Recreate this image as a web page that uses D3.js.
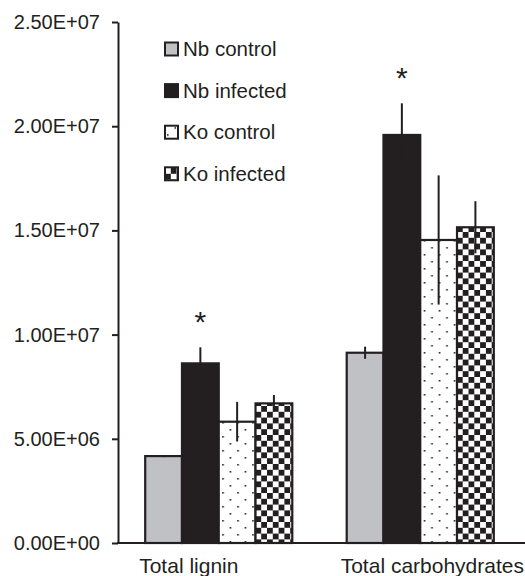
<!DOCTYPE html>
<html>
<head>
<meta charset="UTF-8">
<title>Lignin and carbohydrates</title>
<style>
  body { margin: 0; background: #fff; }
  svg text { font-family: "Liberation Sans", Arial, sans-serif; fill: #231f20; }
</style>
</head>
<body>
<svg width="525" height="576"></svg>
<script src="https://cdnjs.cloudflare.com/ajax/libs/d3/7.8.5/d3.min.js"></script>
<script>
// data
const categories = ['Total lignin', 'Total carbohydrates'];
const series = ['Nb control', 'Nb infected', 'Ko control', 'Ko infected'];
const means = [
  [4.17e6, 8.62e6, 5.82e6, 6.70e6],
  [9.13e6, 19.58e6, 14.54e6, 15.15e6]
];
const errors = [
  [0.05e6, 0.77e6, 0.95e6, 0.40e6],
  [0.29e6, 1.52e6, 3.10e6, 1.25e6]
];
const significant = [
  [false, true, false, false],
  [false, true, false, false]
];
const yTicks = [0, 5e6, 1e7, 1.5e7, 2e7, 2.5e7];

const ink = '#231f20';
const svg = d3.select('svg');
const defs = svg.append('defs');

// dotted fill for Ko control
const dots = defs.append('pattern').attr('id', 'dots')
  .attr('patternUnits', 'userSpaceOnUse').attr('width', 15).attr('height', 14);
dots.append('rect').attr('width', 15).attr('height', 14).attr('fill', '#fff');
dots.append('rect').attr('x', 2).attr('y', 2).attr('width', 1.6).attr('height', 1.6).attr('fill', ink);
dots.append('rect').attr('x', 9.5).attr('y', 9).attr('width', 1.6).attr('height', 1.6).attr('fill', ink);

// checker fill for Ko infected
const chk = defs.append('pattern').attr('id', 'checker')
  .attr('patternUnits', 'userSpaceOnUse').attr('width', 11.6).attr('height', 11.6)
  .attr('x', 0).attr('y', 0);
chk.append('rect').attr('width', 11.6).attr('height', 11.6).attr('fill', '#fff');
chk.append('rect').attr('width', 5.8).attr('height', 5.8).attr('fill', ink);
chk.append('rect').attr('x', 5.8).attr('y', 5.8).attr('width', 5.8).attr('height', 5.8).attr('fill', ink);

const fills = ['#c0c1c4', ink, 'url(#dots)', 'url(#checker)'];

const y = d3.scaleLinear().domain([0, 2.5e7]).range([543, 22]);
const x0 = d3.scaleBand().domain(categories).range([118, 521])
  .paddingInner(0.27).paddingOuter(0.135);
const x1 = d3.scaleBand().domain(series).range([0, x0.bandwidth()]);

// y axis
const yAxis = svg.append('g').attr('transform', 'translate(118,0)')
  .call(d3.axisLeft(y).tickValues(yTicks).tickSize(6).tickSizeOuter(0).tickPadding(12)
    .tickFormat(d => d.toExponential(2).toUpperCase().replace(/E([+-])(\d)$/, 'E$10$2')));
yAxis.select('.domain').attr('stroke', ink).attr('stroke-width', 2);
yAxis.selectAll('.tick line').attr('stroke', ink).attr('stroke-width', 2);
yAxis.selectAll('.tick text').attr('font-size', 20).style('fill', ink);

// bars
const groups = svg.selectAll('g.grp')
  .data(categories.map((c, i) => ({ c, i })))
  .join('g').attr('class', 'grp')
  .attr('transform', d => `translate(${x0(d.c)},0)`);

groups.selectAll('rect')
  .data(d => series.map((s, j) => ({ s, j, v: means[d.i][j] })))
  .join('rect')
  .attr('x', d => x1(d.s))
  .attr('y', d => y(d.v))
  .attr('width', x1.bandwidth())
  .attr('height', d => y(0) - y(d.v))
  .attr('fill', d => fills[d.j])
  .attr('stroke', ink)
  .attr('stroke-width', 2.2);

// error bars
groups.selectAll('line.err')
  .data(d => series.map((s, j) => ({ s, v: means[d.i][j], e: errors[d.i][j] })))
  .join('line').attr('class', 'err')
  .attr('x1', d => x1(d.s) + x1.bandwidth() / 2)
  .attr('x2', d => x1(d.s) + x1.bandwidth() / 2)
  .attr('y1', d => y(d.v + d.e))
  .attr('y2', d => y(d.v - d.e))
  .attr('stroke', ink).attr('stroke-width', 2);

// significance stars
groups.selectAll('text.star')
  .data(d => series.map((s, j) => ({ s, v: means[d.i][j], e: errors[d.i][j], sig: significant[d.i][j] }))
    .filter(d => d.sig))
  .join('text').attr('class', 'star')
  .attr('x', d => x1(d.s) + x1.bandwidth() / 2)
  .attr('y', d => y(d.v + d.e) - 15)
  .attr('text-anchor', 'middle')
  .attr('font-size', 30)
  .text('*');

// x axis baseline and labels
svg.append('line').attr('x1', 117).attr('x2', 525)
  .attr('y1', y(0)).attr('y2', y(0)).attr('stroke', ink).attr('stroke-width', 2);
svg.selectAll('text.cat').data(categories).join('text').attr('class', 'cat')
  .attr('x', d => x0(d) - 6)
  .attr('y', 573)
  .attr('text-anchor', 'start')
  .attr('font-size', 21)
  .text(d => d);

// legend
const leg = svg.append('g').selectAll('g').data(series).join('g')
  .attr('transform', (d, i) => `translate(165,${49 + i * 41.6})`);
leg.append('rect').attr('x', 0).attr('y', -6.5).attr('width', 13).attr('height', 13)
  .attr('fill', (d, i) => fills[i]).attr('stroke', ink).attr('stroke-width', 2);
leg.append('text').attr('x', 18).attr('y', 7).attr('font-size', 20.5).text(d => d);
</script>
</body>
</html>
